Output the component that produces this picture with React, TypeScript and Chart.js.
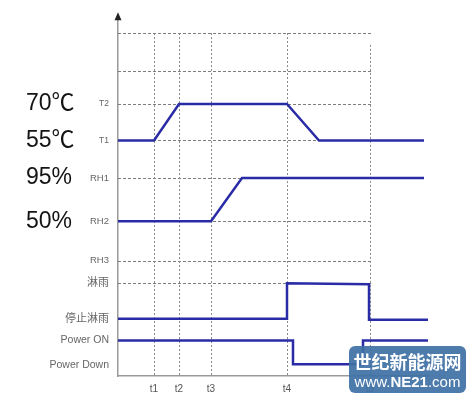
import React, { useEffect, useRef } from "react";
import { Chart, registerables } from "chart.js";

Chart.register(...registerables);

// ---- data ----
const TIME_LABELS = ["t1", "t2", "t3", "t4", "t5"];
const TIME_VALUES = [3.6, 6.1, 9.3, 16.9, 25.2];
const TIME_TOPS = [34.8, 34.8, 34.8, 34.8, 33.6];

const LEVEL_LABELS = ["T2", "T1", "RH1", "RH2", "RH3", "淋雨", "停止淋雨", "Power ON", "Power Down"];
const LEVEL_VALUES = [27.6, 23.9, 20.1, 15.7, 11.7, 9.4, 5.8, 3.6, 1.1];

const GRID_LEVELS = [34.8, 30.9, 27.6, 23.9, 20.1, 15.7, 11.7, 9.4];
const GRID_END = 25.5;

const BIG_LABELS = ["70℃", "55℃", "95%", "50%"];
const BIG_LEVELS = [27.6, 23.9, 20.1, 15.7];

const tempX = [0, 3.6, 6.1, 16.9, 20.1, 30.6];
const tempY = [23.9, 23.9, 27.6, 27.6, 23.9, 23.9];
const humX = [0, 9.3, 12.4, 30.6];
const humY = [15.7, 15.7, 20.1, 20.1];
const rainX = [0, 16.9, 16.9, 25.1, 25.1, 31];
const rainY = [5.8, 5.8, 9.4, 9.3, 5.7, 5.7];
const powerX = [0, 17.5, 17.5, 24.5, 24.5, 31];
const powerY = [3.6, 3.6, 1.2, 1.2, 3.6, 3.6];

const X_MAX = 31;
const Y_MAX = 36.6;

const LINE_COLOR = "#2a2ca6";
const FONT = "'Liberation Sans', Arial, 'Noto Sans CJK SC', sans-serif";

const toPts = (xs: number[], ys: number[]) => xs.map((x, i) => ({ x, y: ys[i] }));

const guides = {
  id: "guides",
  beforeDatasetsDraw(chart: any) {
    const { ctx, scales } = chart;
    const xs = scales.x;
    const ys = scales.y;
    ctx.save();
    ctx.strokeStyle = "#7d7d7d";
    ctx.lineWidth = 1;
    ctx.setLineDash([3, 2]);
    const x0 = xs.getPixelForValue(0);
    const x1 = xs.getPixelForValue(GRID_END);
    GRID_LEVELS.forEach((v) => {
      const py = Math.round(ys.getPixelForValue(v)) + 0.5;
      ctx.beginPath();
      ctx.moveTo(x0, py);
      ctx.lineTo(x1, py);
      ctx.stroke();
    });
    ctx.strokeStyle = "#8a8a8a";
    ctx.setLineDash([2, 2]);
    const yBot = ys.getPixelForValue(0);
    TIME_VALUES.forEach((v, i) => {
      const px = Math.round(xs.getPixelForValue(v)) + 0.5;
      ctx.beginPath();
      ctx.moveTo(px, ys.getPixelForValue(TIME_TOPS[i]));
      ctx.lineTo(px, yBot);
      ctx.stroke();
    });
    ctx.restore();
  },
  afterDraw(chart: any) {
    const { ctx, scales, chartArea } = chart;
    const xs = scales.x;
    const ys = scales.y;
    ctx.save();
    ctx.fillStyle = "#141414";
    ctx.font = `23px 'Liberation Sans', Arial, 'Noto Sans CJK SC', sans-serif`;
    ctx.textAlign = "left";
    ctx.textBaseline = "middle";
    BIG_LABELS.forEach((t, i) => {
      ctx.fillText(t, 26, ys.getPixelForValue(BIG_LEVELS[i]));
    });
    const ax = xs.getPixelForValue(0);
    const at = chartArea.top;
    ctx.fillStyle = "#222";
    ctx.beginPath();
    ctx.moveTo(ax, at - 3);
    ctx.lineTo(ax - 3.5, at + 5);
    ctx.lineTo(ax + 3.5, at + 5);
    ctx.closePath();
    ctx.fill();
    ctx.restore();
  },
};

const tickFont = (ctx: any) => {
  const label = LEVEL_LABELS[ctx.index] || "";
  let size = 10.5;
  if (label.startsWith("T")) size = 8.5;
  else if (label.startsWith("RH")) size = 9.5;
  else if (/[\u4e00-\u9fff]/.test(label)) size = 11;
  return { size, family: FONT };
};

export default function App() {
  const ref = useRef<HTMLCanvasElement | null>(null);

  useEffect(() => {
    if (!ref.current) return;
    const ds = (xs: number[], ys: number[]) => ({
      data: toPts(xs, ys),
      borderColor: LINE_COLOR,
      backgroundColor: LINE_COLOR,
      borderWidth: 2.5,
      pointRadius: 0,
      fill: false,
      tension: 0,
      clip: false as any,
    });
    const chart = new Chart(ref.current, {
      type: "line",
      data: {
        datasets: [
          ds(tempX, tempY),
          ds(humX, humY),
          ds(rainX, rainY),
          ds(powerX, powerY),
        ],
      },
      options: {
        animation: false,
        responsive: false,
        devicePixelRatio: 1,
        layout: { padding: { left: 0, right: 45, top: 10, bottom: 0 } },
        plugins: {
          legend: { display: false },
          tooltip: { enabled: false },
        },
        scales: {
          x: {
            type: "linear",
            min: 0,
            max: X_MAX,
            grid: { display: false, drawTicks: false },
            border: { display: true, color: "#9a9a9a", width: 1.5 },
            ticks: {
              autoSkip: false,
              maxRotation: 0,
              padding: 7,
              color: "#555",
              font: { size: 10, family: FONT },
              callback: (_v: any, i: number) => TIME_LABELS[i],
            },
            afterBuildTicks: (s: any) => {
              s.ticks = TIME_VALUES.map((v) => ({ value: v }));
            },
            afterFit: (s: any) => {
              s.height = 24;
            },
          },
          y: {
            type: "linear",
            min: 0,
            max: Y_MAX,
            grid: { display: false, drawTicks: false },
            border: { display: true, color: "#9a9a9a", width: 1.5 },
            ticks: {
              autoSkip: false,
              padding: 9,
              color: "#666",
              font: tickFont as any,
              callback: (_v: any, i: number) => LEVEL_LABELS[i],
            },
            afterBuildTicks: (s: any) => {
              s.ticks = LEVEL_VALUES.map((v) => ({ value: v }));
            },
            afterFit: (s: any) => {
              s.width = 118;
            },
          },
        },
      } as any,
      plugins: [guides],
    });
    return () => chart.destroy();
  }, []);

  return (
    <div
      style={{
        position: "absolute",
        left: 0,
        top: 0,
        width: 473,
        height: 400,
        background: "#fff",
        overflow: "hidden",
      }}
    >
      <canvas ref={ref} width={473} height={400} style={{ display: "block", width: 473, height: 400 }} />
      <div
        style={{
          position: "absolute",
          left: 349,
          top: 346,
          width: 117,
          height: 47,
          borderRadius: 6,
          background: "rgba(62,112,165,0.92)",
          color: "#fff",
          textAlign: "center",
          fontFamily: FONT,
        }}
      >
        <div
          style={{
            paddingTop: 4,
            height: 23,
            lineHeight: "23px",
            fontSize: 18,
            fontWeight: 700,
            fontFamily: "'Noto Sans CJK SC', sans-serif",
          }}
        >
          世纪新能源网
        </div>
        <div style={{ height: 18, lineHeight: "18px", fontSize: 15 }}>
          www.<b>NE21</b>.com
        </div>
      </div>
    </div>
  );
}
